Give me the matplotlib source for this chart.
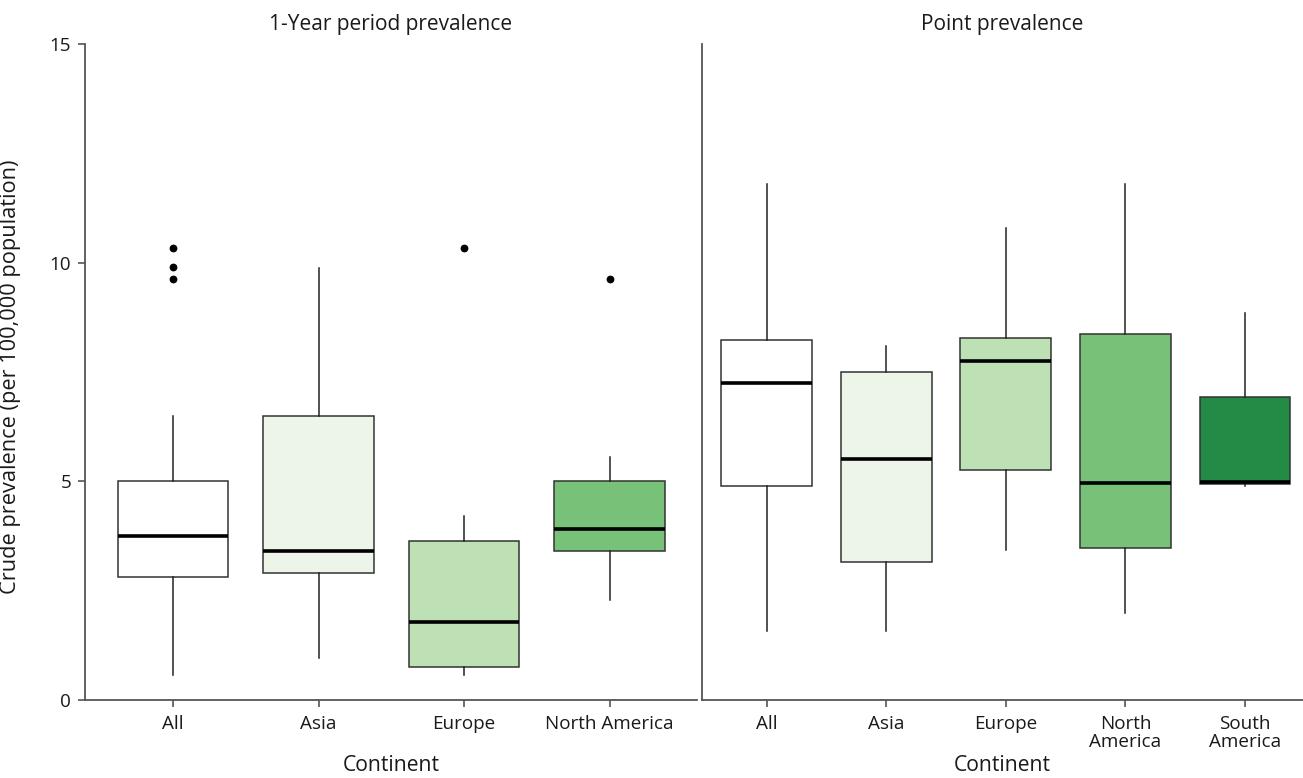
import matplotlib
matplotlib.use("Agg")
import matplotlib.pyplot as plt

plt.rcParams['font.family'] = ['Open Sans', 'DejaVu Sans']

# ---- data ----
period_cats = ["All", "Asia", "Europe", "North America"]
period_whislo = [0.57, 0.96, 0.57, 2.29]
period_q1 = [2.81, 2.90, 0.75, 3.41]
period_med = [3.75, 3.41, 1.78, 3.91]
period_q3 = [5.00, 6.49, 3.64, 5.00]
period_whishi = [6.49, 9.88, 4.21, 5.56]
period_fliers = [[10.34, 9.90, 9.63], [], [10.34], [9.63]]

point_cats = ["All", "Asia", "Europe", "North\nAmerica", "South\nAmerica"]
point_whislo = [1.57, 1.57, 3.44, 1.98, 4.90]
point_q1 = [4.90, 3.16, 5.27, 3.48, 4.95]
point_med = [7.25, 5.50, 7.76, 4.97, 4.99]
point_q3 = [8.23, 7.50, 8.28, 8.38, 6.93]
point_whishi = [11.80, 8.09, 10.79, 11.80, 8.86]
point_fliers = [[], [], [], [], []]

colors = ["#ffffff", "#edf4e8", "#bde0b5", "#78c178", "#238b45"]

yticks = [0, 5, 10, 15]
y_label = "Crude prevalence (per 100,000 population)"
x_label = "Continent"
titles = ["1-Year period prevalence", "Point prevalence"]

W, H = 1303, 778
fig = plt.figure(figsize=(W / 100, H / 100), dpi=100)

def px_axes(x0, x1, y0, y1):
    return fig.add_axes([x0 / W, 1 - y1 / H, (x1 - x0) / W, (y1 - y0) / H])

ax1 = px_axes(85, 697, 44, 700)
ax2 = px_axes(702, 1303, 44, 700)

spine_col = "#555555"
txt_col = "#1a1a1a"

def draw(ax, cats, wlo, q1, med, q3, whi, fl, xlim, title, show_y):
    stats = []
    for i, c in enumerate(cats):
        stats.append(dict(label=c, whislo=wlo[i], q1=q1[i], med=med[i],
                          q3=q3[i], whishi=whi[i], fliers=fl[i]))
    bp = ax.bxp(stats, positions=list(range(len(cats))), widths=0.76,
                patch_artist=True, showcaps=False,
                boxprops=dict(edgecolor="#333333", linewidth=1.1),
                medianprops=dict(color="black", linewidth=2.6),
                whiskerprops=dict(color="#222222", linewidth=1.1),
                flierprops=dict(marker="o", markerfacecolor="black",
                                markeredgecolor="black", markersize=4.6))
    for patch, col in zip(bp["boxes"], colors):
        patch.set_facecolor(col)
    ax.set_xlim(*xlim)
    ax.set_ylim(0, 15)
    for s in ["top", "right"]:
        ax.spines[s].set_visible(False)
    for s in ["left", "bottom"]:
        ax.spines[s].set_color(spine_col)
        ax.spines[s].set_linewidth(1.3)
    ax.set_xticks(range(len(cats)))
    ax.set_xticklabels(cats, fontsize=13.6, color=txt_col, linespacing=0.95)
    ax.tick_params(axis="x", length=5, width=1.2, color=spine_col, pad=6)
    if show_y:
        ax.set_yticks(yticks)
        ax.set_yticklabels([str(t) for t in yticks], fontsize=13.6, color=txt_col)
        ax.tick_params(axis="y", length=5, width=1.2, color=spine_col, pad=5)
        ax.set_ylabel(y_label, fontsize=15.7, color=txt_col)
        ax.yaxis.set_label_coords(-0.104, 0.492)
    else:
        ax.set_yticks([])
    ax.set_xlabel(x_label, fontsize=15.2, color=txt_col, va="center")
    ax.xaxis.set_label_coords(0.5, -0.1)
    ax.set_title(title, fontsize=15, color=txt_col, pad=10)

draw(ax1, period_cats, period_whislo, period_q1, period_med, period_q3,
     period_whishi, period_fliers, (-0.605, 3.6), titles[0], True)
draw(ax2, point_cats, point_whislo, point_q1, point_med, point_q3,
     point_whishi, point_fliers, (-0.54, 4.485), titles[1], False)

fig.savefig("out.png", dpi=100, facecolor="white")
